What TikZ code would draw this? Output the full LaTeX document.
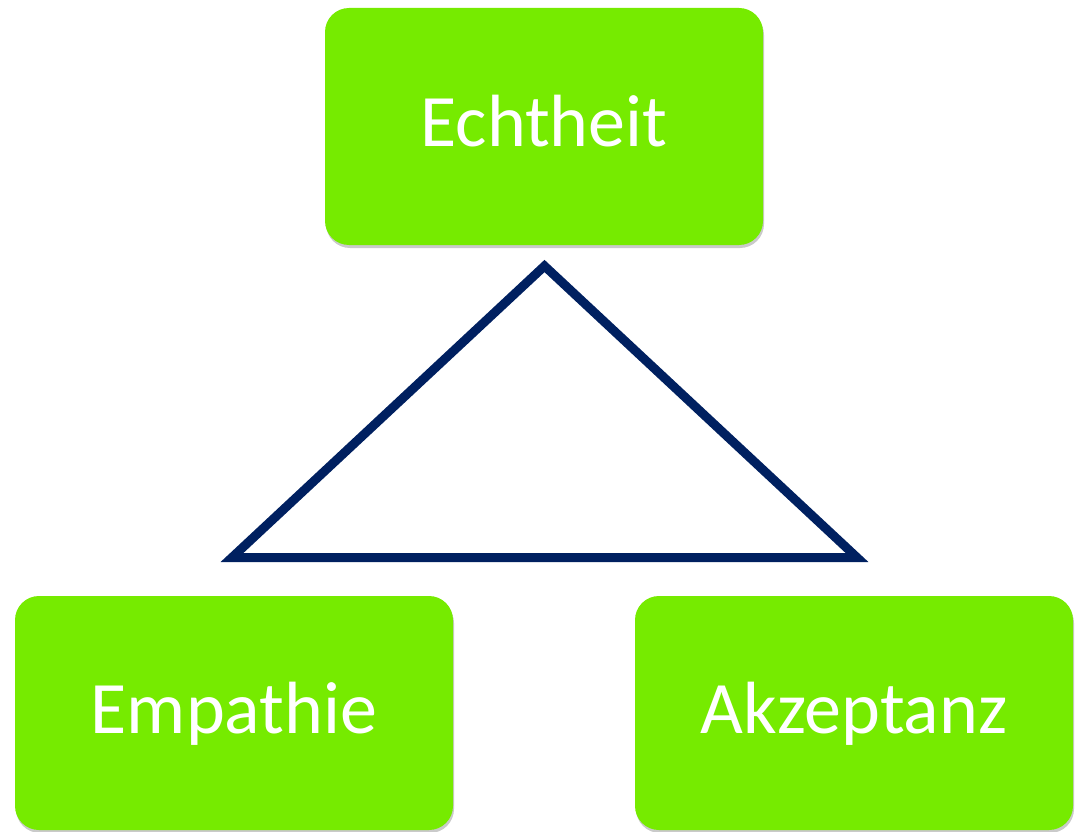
\documentclass[tikz,border=0pt]{standalone}
\usepackage{fontspec}
\setmainfont{Carlito}
\usetikzlibrary{shadows}
\definecolor{boxgreen}{RGB}{118,235,0}
\definecolor{navy}{RGB}{0,32,96}
\begin{document}
\begin{tikzpicture}[x=1pt,y=-1pt,
  greenbox/.style={rounded corners=24pt, fill=boxgreen, text=white,
    font=\fontsize{74}{80}\selectfont, minimum width=438pt, inner sep=0pt,
    text height=50pt, text depth=9pt,
    drop shadow={shadow xshift=1pt, shadow yshift=-3pt, opacity=0.35, fill=black!60}},
  triline/.style={draw=navy, line width=9pt, miter limit=10}]
\useasboundingbox (0,0) rectangle (1077,832);
\node[greenbox, minimum height=237pt] (echt) at (544,126.5) {Echtheit};
\node[greenbox, minimum height=234pt] (emp) at (234,713) {Empathie};
\node[greenbox, minimum height=234pt] (akz) at (854,713) {Akzeptanz};
\coordinate (apex) at (544.5,266);
\coordinate (bl) at (232,557.5);
\coordinate (br) at (857,557.5);
\draw[triline] (apex) -- (bl) -- (br) -- cycle;
\end{tikzpicture}
\end{document}
